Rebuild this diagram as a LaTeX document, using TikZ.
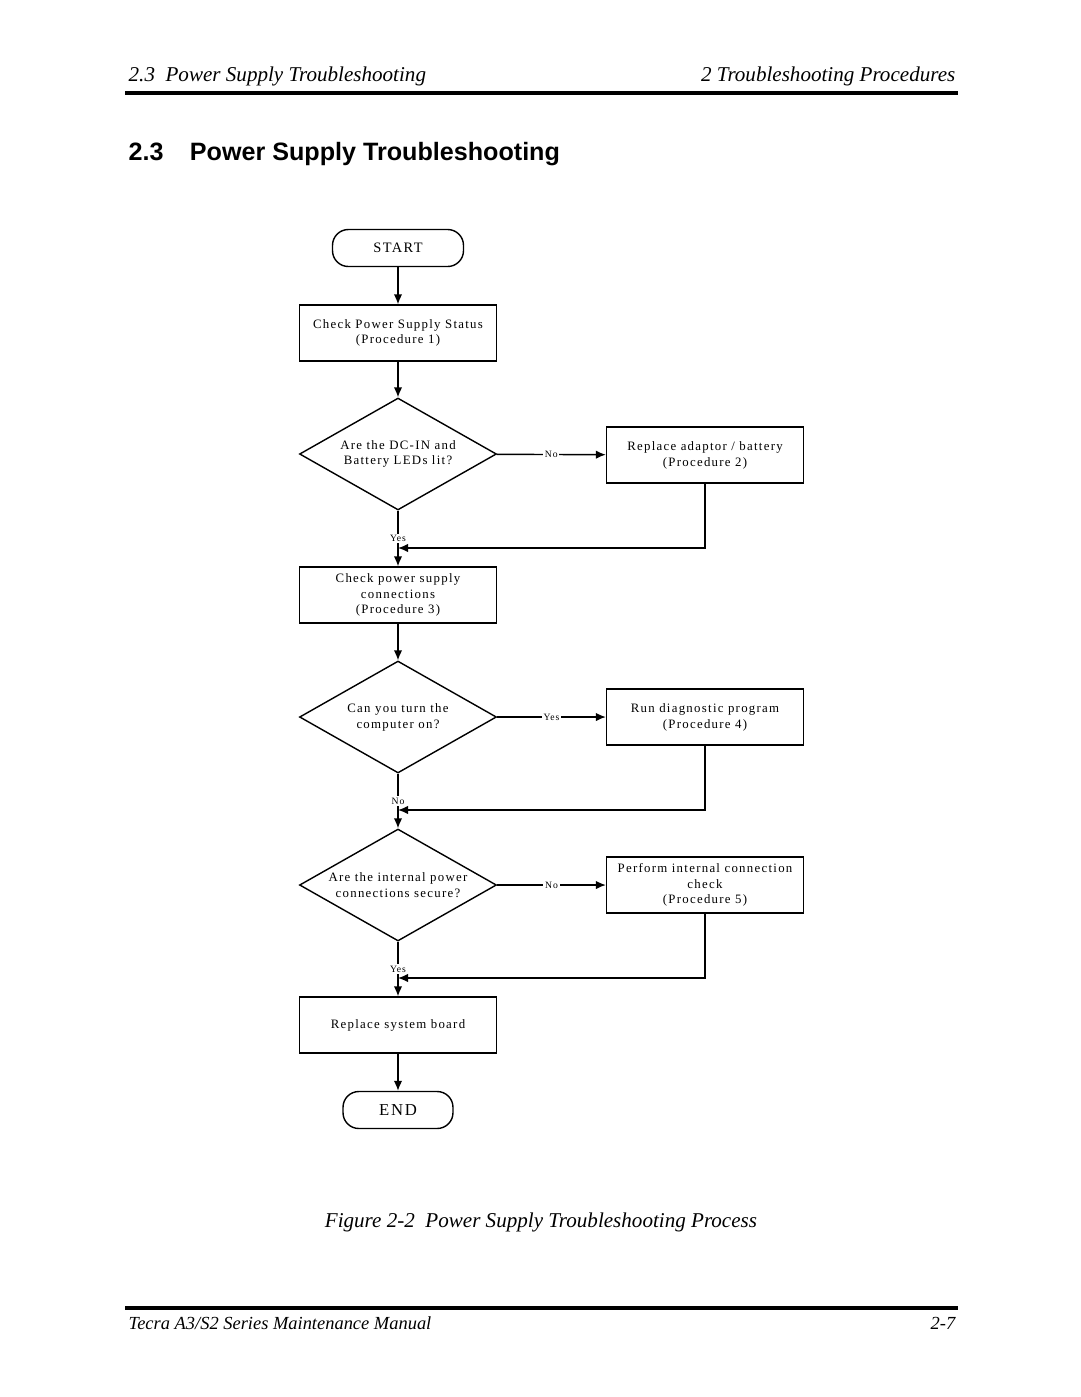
\documentclass[tikz,border=0pt]{standalone}
\usepackage{fontspec}
\setmainfont{Liberation Serif}
\newfontfamily\flowfont[LetterSpace=10]{Liberation Serif}
\newfontfamily\headfont{Liberation Sans}
\usetikzlibrary{shapes.geometric}
\usetikzlibrary{arrows.meta}
\tikzset{>={Latex[width=1.7mm,length=2mm]}}
\tikzset{
  term/.style={draw, line width=0.8pt, rounded corners=9pt, minimum height=0.74cm},
  proc/.style={draw, line width=0.8pt, minimum width=3.94cm, minimum height=1.12cm,
    align=center, font=\flowfont\fontsize{7.3}{9}\selectfont},
  decide/.style={draw, line width=0.8pt, diamond, aspect=1.76, inner sep=0pt,
    minimum width=3.94cm, minimum height=2.24cm, align=center,
    font=\flowfont\fontsize{7.3}{9}\selectfont},
  yn/.style={fill=white, inner sep=1pt, font=\flowfont\fontsize{5.5}{6}\selectfont},
  pagetext/.style={inner sep=0pt, font=\itshape\fontsize{12}{14}\selectfont},
}

\begin{document}
\begin{tikzpicture}[x=0.02cm, y=-0.02cm, line width=0.8pt]
    \useasboundingbox (0,0) rectangle (1080,1397);

    % page head
    \node[pagetext, anchor=base west] (head-l) at (128,81) {2.3\ \ Power Supply Troubleshooting};
    \node[pagetext, anchor=base east] (head-r) at (956,81) {2 Troubleshooting Procedures};
    \draw[line width=2pt] (125,93) -- (958,93);
    \node[anchor=base west, inner sep=0pt, font=\headfont\bfseries\fontsize{14.3}{17}\selectfont]
      (title) at (128,160) {2.3\hspace{15pt}Power Supply Troubleshooting};

    % flow chart
    \node[term, minimum width=2.62cm, font=\flowfont\fontsize{8.2}{9}\selectfont] (start) at (398,248) {START};
    \node[proc] (ps-status) at (398,333) {Check Power Supply Status\\(Procedure 1)};
    \node[decide] (dcin) at (398,454) {Are the DC-IN and\\Battery LEDs lit?};
    \node[proc] (adaptor) at (705,455) {Replace adaptor / battery\\(Procedure 2)};
    \node[proc] (ps-conn) at (398,595) {Check power supply\\connections\\(Procedure 3)};
    \node[decide] (turn-on) at (398,717) {Can you turn the\\computer on?};
    \node[proc] (diag) at (705,717) {Run diagnostic program\\(Procedure 4)};
    \node[decide] (internal) at (398,885) {Are the internal power\\connections secure?};
    \node[proc] (int-check) at (705,885) {Perform internal connection\\check\\(Procedure 5)};
    \node[proc] (sysboard) at (398,1025) {Replace system board};
    \node[term, minimum width=2.2cm, font=\flowfont\fontsize{9.5}{10}\selectfont] (end) at (398,1110) {END};

    \coordinate (join1) at (398,548);
    \coordinate (join2) at (398,810);
    \coordinate (join3) at (398,978);

    \draw[->] (start) -- (ps-status);
    \draw[->] (ps-status) -- (dcin);
    \draw[->] (dcin) -- node[yn] {No} (adaptor);
    \draw[->] (dcin) -- node[yn] {Yes} (ps-conn);
    \draw[->] (adaptor) |- (join1);
    \draw[->] (ps-conn) -- (turn-on);
    \draw[->] (turn-on) -- node[yn] {Yes} (diag);
    \draw[->] (turn-on) -- node[yn] {No} (internal);
    \draw[->] (diag) |- (join2);
    \draw[->] (internal) -- node[yn] {No} (int-check);
    \draw[->] (internal) -- node[yn] {Yes} (sysboard);
    \draw[->] (int-check) |- (join3);
    \draw[->] (sysboard) -- (end);

    % caption and page foot
    \node[pagetext, anchor=base] (caption) at (541,1227) {Figure 2-2\ \ Power Supply Troubleshooting Process};
    \draw[line width=2pt] (125,1308) -- (958,1308);
    \node[pagetext, anchor=base west, font=\itshape\fontsize{10.5}{13}\selectfont] (foot-l) at (128,1329) {Tecra A3/S2 Series Maintenance Manual};
    \node[pagetext, anchor=base east, font=\itshape\fontsize{10.5}{13}\selectfont] (foot-r) at (956,1329) {2-7};
\end{tikzpicture}
\end{document}
